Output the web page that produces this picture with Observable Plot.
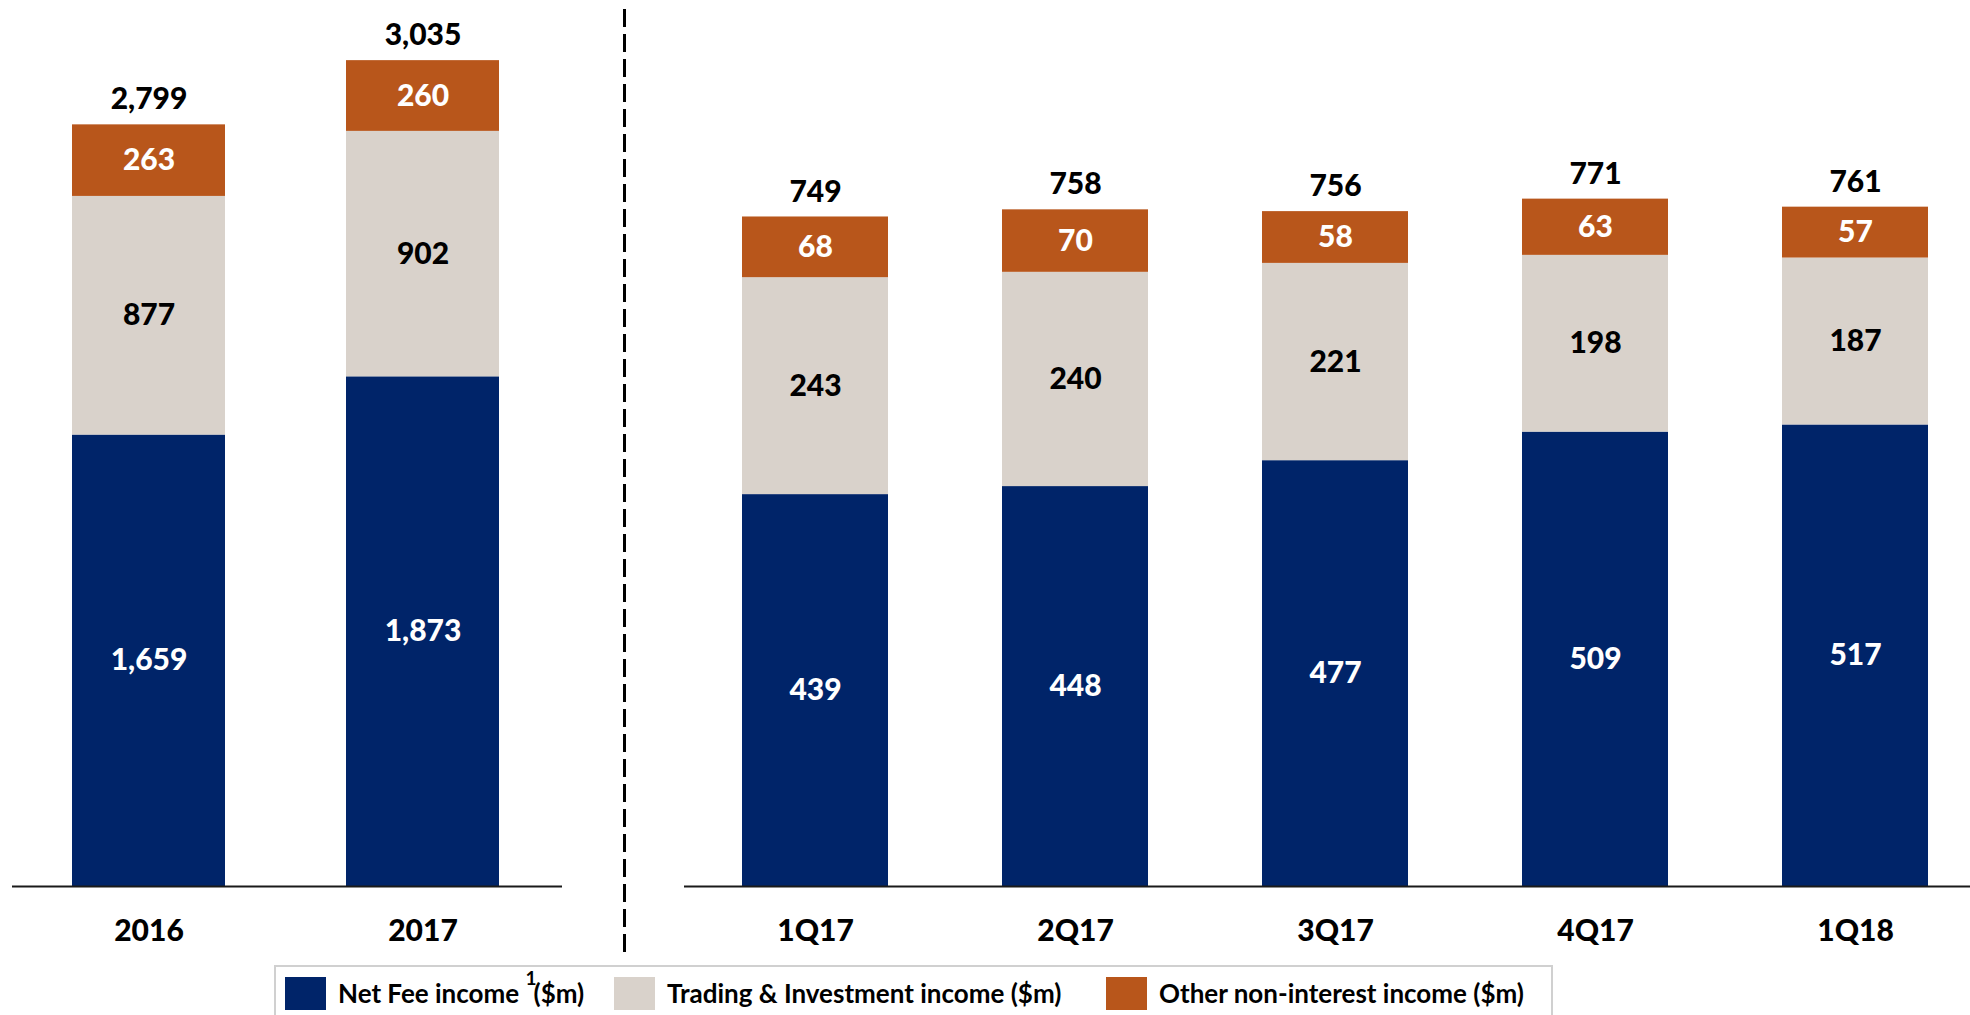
<!DOCTYPE html>
<html>
<head>
<meta charset="utf-8">
<script src="https://cdn.jsdelivr.net/npm/d3@7"></script>
<script src="https://cdn.jsdelivr.net/npm/@observablehq/plot@0.6"></script>
<style>
html, body { margin: 0; padding: 0; background: #fff; overflow: hidden; }
#root { position: relative; width: 1970px; height: 1015px; overflow: hidden; font-family: Lato, "Open Sans", sans-serif; }
#left { position: absolute; left: 0; top: 0; width: 626px; }
#right { position: absolute; left: 630px; top: 0; width: 1360px; }
#left svg, #right svg { max-width: none !important; }
#legend { position: absolute; left: 274px; top: 965px; width: 1279px; height: 80px; border: 2px solid #d0d0d0; box-sizing: border-box; }
.sw { position: absolute; top: 10px; width: 41px; height: 33px; }
.lt { position: absolute; top: 10px; font-weight: 700; font-size: 26px; line-height: 33px; color: #000; white-space: nowrap; }
.lt sup { font-size: 19px; position: relative; top: -9px; vertical-align: top; line-height: 1; margin-right: -3px; }
</style>
</head>
<body>
<div id="root">
  <div id="left"></div>
  <div id="right"></div>
  <div id="legend"></div>
</div>
<script>
// ---- data ----
const series = ["Net Fee income", "Trading & Investment income", "Other non-interest income"];
const seriesColors = ["#002469", "#D9D2CB", "#B8561B"];
const labelColors = ["#ffffff", "#000000", "#ffffff"];
const legendLabels = ["Net Fee income <sup>1</sup>($m)", "Trading &amp; Investment income ($m)", "Other non-interest income ($m)"];

const years = ["2016", "2017"];
const yearNetFee = [1659, 1873];
const yearTrading = [877, 902];
const yearOther = [263, 260];
const yearTotal = [2799, 3035];

const quarters = ["1Q17", "2Q17", "3Q17", "4Q17", "1Q18"];
const qNetFee = [439, 448, 477, 509, 517];
const qTrading = [243, 240, 221, 198, 187];
const qOther = [68, 70, 58, 63, 57];
const qTotal = [749, 758, 756, 771, 761];

// ---- build tables ----
function buildRows(cats, arrays) {
  const rows = [];
  cats.forEach((c, i) => {
    let acc = 0;
    arrays.forEach((arr, s) => {
      rows.push({cat: c, series: series[s], si: s, value: arr[i], y1: acc, y2: acc + arr[i]});
      acc += arr[i];
    });
  });
  return rows;
}
function buildTotals(cats, arrays, totals) {
  return cats.map((c, i) => ({cat: c, total: totals[i], top: d3.sum(arrays, a => a[i])}));
}

const yearArrays = [yearNetFee, yearTrading, yearOther];
const qArrays = [qNetFee, qTrading, qOther];
const leftRows = buildRows(years, yearArrays);
const leftTotals = buildTotals(years, yearArrays, yearTotal);
const rightRows = buildRows(quarters, qArrays);
const rightTotals = buildTotals(quarters, qArrays, qTotal);

const fmt = d3.format(",");
const FS = 30;
const textStyle = {fontSize: FS, fontWeight: 900, fontFamily: "Lato, 'Open Sans', sans-serif"};

function valueMarks(rows) {
  return series.map((s, si) => Plot.text(rows.filter(d => d.si === si), {
    x: "cat", y: d => (d.y1 + d.y2) / 2, text: d => fmt(d.value),
    fill: labelColors[si], ...textStyle
  }));
}

function panelMarks(cats, rows, totals, ruleInset) {
  return [
    Plot.barY(rows, {x: "cat", y1: "y1", y2: "y2", fill: "series"}),
    Plot.ruleY([0], {stroke: "#1a1a1a", strokeWidth: 2, ...ruleInset}),
    ...valueMarks(rows),
    Plot.text(totals, {x: "cat", y: "top", dy: -25, text: d => fmt(d.total), fill: "#000", ...textStyle}),
    Plot.text(cats, {x: d => d, y: 0, dy: 45, text: d => d, fill: "#000", ...textStyle})
  ];
}

const left = Plot.plot({
  width: 626, height: 960,
  marginTop: 10, marginBottom: 6, marginLeft: 0, marginRight: 2,
  style: {background: "transparent", overflow: "visible", maxWidth: "none"},
  x: {type: "band", domain: years, range: [12, 560], paddingInner: 0.44, paddingOuter: 0.22, axis: null},
  y: {domain: [0, 3256], range: [886, 0], axis: null},
  color: {domain: series, range: seriesColors},
  marks: [
    ...panelMarks(years, leftRows, leftTotals, {insetLeft: 12, insetRight: 62}),
    Plot.frame({anchor: "right", stroke: "#000", strokeWidth: 3, strokeDasharray: "15,10"})
  ]
});
document.getElementById("left").appendChild(left);

const right = Plot.plot({
  width: 1360, height: 960,
  marginTop: 10, marginBottom: 5, marginLeft: 54, marginRight: 0,
  style: {background: "transparent", overflow: "visible", maxWidth: "none"},
  x: {type: "band", domain: quarters, range: [55, 1355], paddingInner: 0.44, paddingOuter: 0.22, axis: null},
  y: {domain: [0, 992.5], range: [886, 0], axis: null},
  color: {domain: series, range: seriesColors},
  marks: panelMarks(quarters, rightRows, rightTotals, {})
});
document.getElementById("right").appendChild(right);

// ---- legend ----
const legend = document.getElementById("legend");
const swatchLeft = [9, 338, 830];
series.forEach((s, i) => {
  const sw = document.createElement("span");
  sw.className = "sw";
  sw.style.background = seriesColors[i];
  sw.style.left = swatchLeft[i] + "px";
  const lt = document.createElement("span");
  lt.className = "lt";
  lt.style.left = (swatchLeft[i] + 53) + "px";
  lt.innerHTML = legendLabels[i];
  legend.appendChild(sw);
  legend.appendChild(lt);
});
</script>
</body>
</html>
